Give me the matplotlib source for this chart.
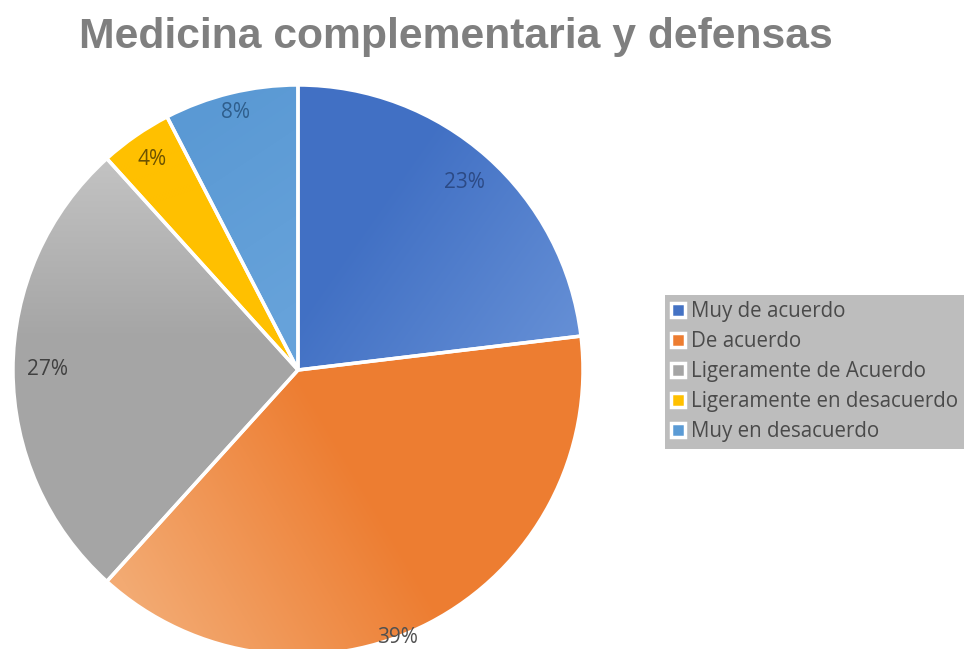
import numpy as np
import matplotlib
matplotlib.use("Agg")
import matplotlib.pyplot as plt
from matplotlib.colors import to_rgb

title = "Medicina complementaria y defensas"
categories = ["Muy de acuerdo", "De acuerdo", "Ligeramente de Acuerdo",
              "Ligeramente en desacuerdo", "Muy en desacuerdo"]
values = [23.1, 38.6, 26.6, 4.1, 7.6]
base_colors = ["#4472C4", "#ED7D31", "#A5A5A5", "#FFC000", "#5B9BD5"]

W, H = 976, 649
fig = plt.figure(figsize=(W / 100, H / 100), dpi=100)
ax = fig.add_axes([0, 0, 1, 1])

cx, cy, R = 298, H - 370, 285

wedges, _ = ax.pie(values, colors=base_colors, startangle=90, counterclock=False,
                   center=(cx, cy), radius=R, frame=True,
                   wedgeprops=dict(edgecolor="white", linewidth=2.5))
ax.set_xlim(0, W)
ax.set_ylim(0, H)
ax.axis("off")

leg = fig.legend(wedges, categories, loc="upper left",
                 bbox_to_anchor=(665 / W, 1 - 295 / H),
                 frameon=True, facecolor="#bdbdbd", edgecolor="#bdbdbd",
                 fancybox=False, framealpha=1,
                 prop=dict(family="Open Sans", size=14.8),
                 labelcolor="#4a4a4a", handlelength=0.65, handleheight=0.65,
                 handletextpad=0.3, labelspacing=0.44, borderpad=0.3,
                 borderaxespad=0)
leg.get_frame().set_linewidth(0)

# gradient fills (pixel coords, top origin): p0 colour c0 -> p1 colour c1
grads = [
    ((380, 200), "#4170c4", (580, 340), "#6690d6"),
    ((360, 480), "#ed7d31", (140, 610), "#f3aa72"),
    ((110, 165), "#c2c2c2", (110, 340), "#a5a5a5"),
    ((150, 150), "#ffc000", (200, 300), "#ffc000"),
    ((180, 120), "#5a99d4", (300, 300), "#66a2da"),
]
yy, xx = np.mgrid[0:H, 0:W]
for w, (p0, c0, p1, c1) in zip(wedges, grads):
    x0, y0 = p0[0], H - p0[1]
    x1, y1 = p1[0], H - p1[1]
    d = np.array([x1 - x0, y1 - y0], float)
    t = ((xx - x0) * d[0] + (yy - y0) * d[1]) / (d @ d)
    t = np.clip(t, 0, 1)[..., None]
    img = (1 - t) * np.array(to_rgb(c0)) + t * np.array(to_rgb(c1))
    im = ax.imshow(img, extent=(0, W, 0, H), origin="lower", zorder=1.5,
                   interpolation="bilinear")
    im.set_clip_path(w)
    w.set_facecolor("none")
    w.set_zorder(2)
ax.set_xlim(0, W)
ax.set_ylim(0, H)
ax.set_aspect("auto")

# percentage labels
dists = [0.88, 1.0, 0.88, 0.90, 0.93]
angle_shift = [0, -7, 0, 0, 0]
label_colors = ["#2c4a85", "#505050", "#404040", "#6b5200", "#2f5e8c"]
total = sum(values)
for w, v, dfr, sh, lc in zip(wedges, values, dists, angle_shift, label_colors):
    th = np.deg2rad((w.theta1 + w.theta2) / 2 + sh)
    ax.text(cx + R * dfr * np.cos(th), cy + R * dfr * np.sin(th),
            f"{round(v / total * 100):.0f}%", ha="center", va="center",
            family="Open Sans", fontsize=15, color=lc, zorder=3)

fig.text(456 / W, 1 - 37 / H, title, ha="center", va="center",
         family="Liberation Sans", fontweight="bold", fontsize=30.7,
         color="#7f7f7f")

fig.savefig("out.png", dpi=100)
